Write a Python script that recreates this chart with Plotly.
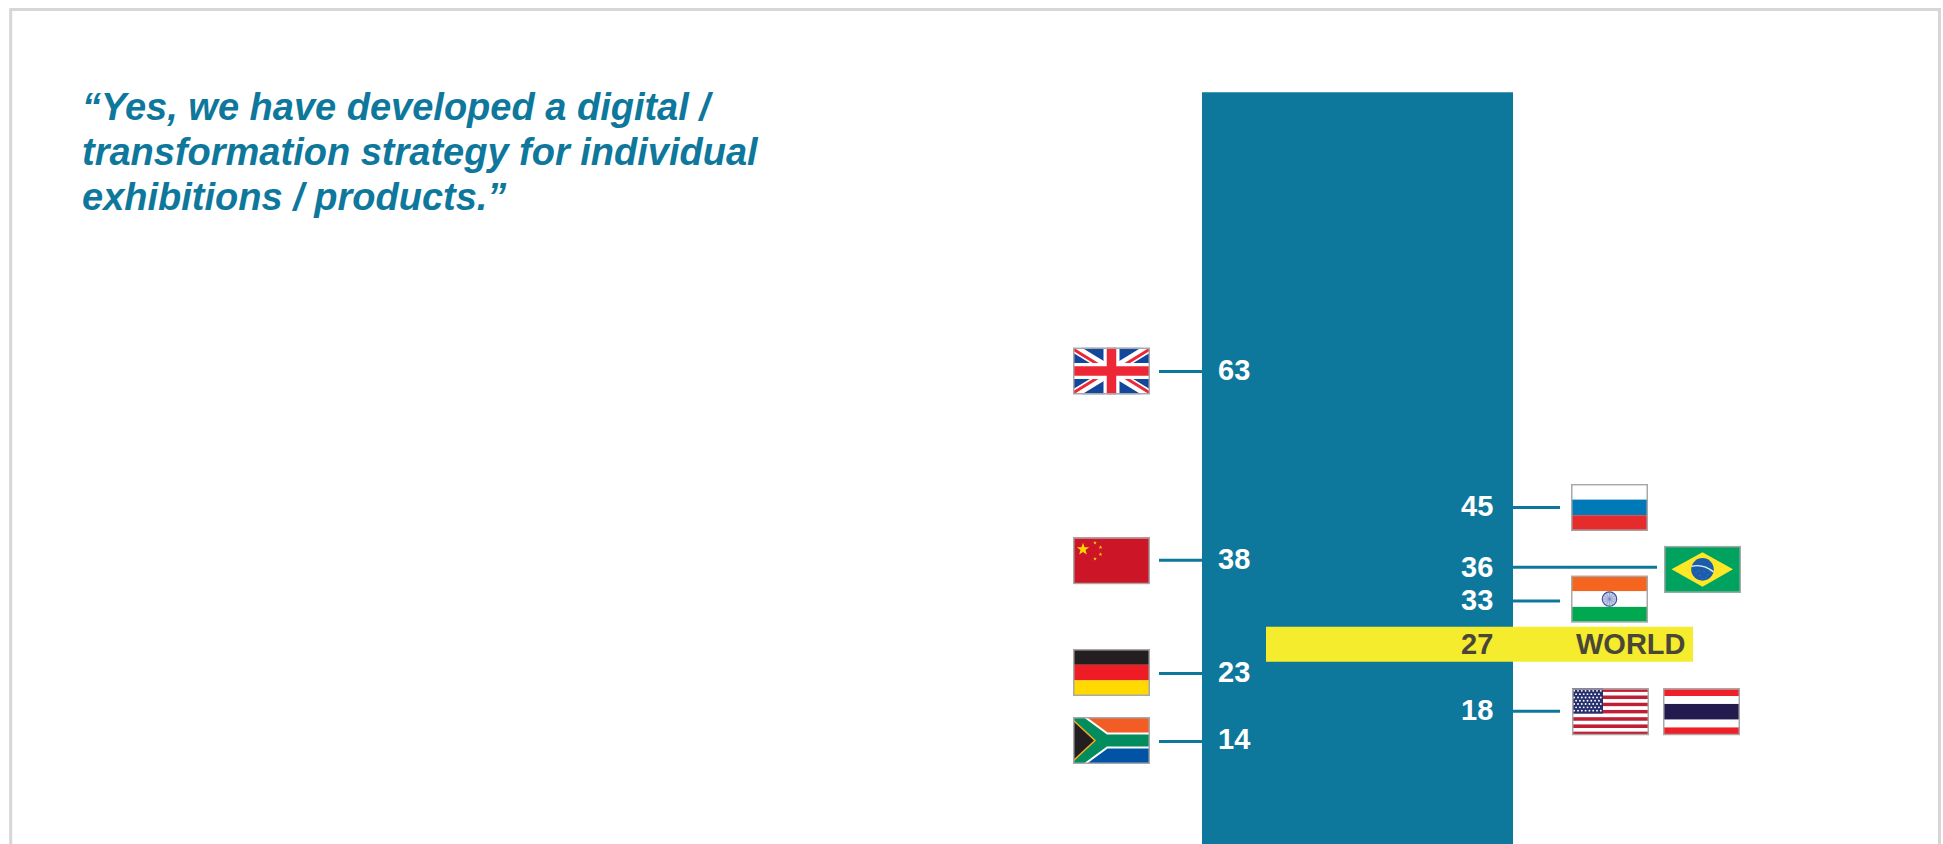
import base64
import math
import plotly.graph_objects as go

W, H = 1943, 844
Y_MIN, Y_MAX = 0.42, 112.21

TEAL = "#0e789c"
YELLOW = "#f4ec2d"
DARK = "#4a4638"
FRAME = "#d6d6d6"
FONT = "Liberation Sans"

title_lines = ["“Yes, we have developed a digital /",
               "transformation strategy for individual",
               "exhibitions / products.”"]

column_value = [100]

left_countries = ["UK", "China", "Germany", "South Africa"]
left_values = [63, 38, 23, 14]

right_countries = ["Russia", "Brazil", "India", "USA"]
right_values = [45, 36, 33, 18]

world_label = "WORLD"
world_value = 27

# layout nudges, in axis units, where the original pulled crowded labels apart
nudge = {"Brazil": 1.06, "India": -0.4}
# small vertical optical offsets of the numbers, in pixels
label_dy = {63: -2, 38: -1, 23: -2, 14: -2, 45: -1, 36: -0.5, 33: -1, 27: 1, 18: -1}


def px(x):
    return x / W


def py(y):
    return 1 - y / H


def y_px(v):
    return (Y_MAX - v) / (Y_MAX - Y_MIN) * H


def svg(body):
    s = ('<svg xmlns="http://www.w3.org/2000/svg" viewBox="0 0 77 47" preserveAspectRatio="none" '
         'width="308" height="188">' + body +
         '<rect x="0.75" y="0.75" width="75.5" height="45.5" fill="none" stroke="#a8a8a8" stroke-width="1.5"/></svg>')
    return "data:image/svg+xml;base64," + base64.b64encode(s.encode()).decode()


def bands(colors, weights=None):
    weights = weights or [1] * len(colors)
    total = sum(weights)
    y, out = 0.0, ""
    for c, w in zip(colors, weights):
        h = 47 * w / total
        out += f'<rect x="0" y="{y:.2f}" width="77" height="{h + 0.1:.2f}" fill="{c}"/>'
        y += h
    return out


def star(cx, cy, r, fill):
    pts = []
    for i in range(10):
        a = -math.pi / 2 + i * math.pi / 5
        rr = r if i % 2 == 0 else r * 0.4
        pts.append(f"{cx + rr * math.cos(a):.2f},{cy + rr * math.sin(a):.2f}")
    return f'<polygon points="{" ".join(pts)}" fill="{fill}"/>'


uk = ('<rect width="77" height="47" fill="#12479c"/>'
      '<path d="M0 0L77 47M77 0L0 47" stroke="#fff" stroke-width="9"/>'
      '<path d="M0 1.5L30 20M77 1.5L47 20M0 45.5L30 27M77 45.5L47 27" stroke="#ee2737" stroke-width="3"/>'
      '<path d="M38.5 0V47M0 23.5H77" stroke="#fff" stroke-width="16"/>'
      '<path d="M38.5 0V47M0 23.5H77" stroke="#ee2737" stroke-width="9.5"/>')

china = ('<rect width="77" height="47" fill="#cc1527"/>' + star(10, 12, 6.5, "#ffd800") +
         star(22, 5.5, 2, "#ffd800") + star(27.5, 10, 2, "#ffd800") +
         star(27.5, 17, 2, "#ffd800") + star(22, 21.5, 2, "#ffd800"))

germany = bands(["#231f20", "#ee1c25", "#ffd900"])

south_africa = ('<rect width="77" height="47" fill="#f15d24"/>'
                '<rect y="23.5" width="77" height="23.5" fill="#0053a5"/>'
                '<path d="M0 0L32 23.5L0 47M32 23.5H77" fill="none" stroke="#fff" stroke-width="16"/>'
                '<path d="M0 0L32 23.5L0 47M32 23.5H77" fill="none" stroke="#038c5e" stroke-width="12"/>'
                '<path d="M0 3L22 23.5L0 44Z" fill="#231f20" stroke="#f8ac1d" stroke-width="1.5"/>')

russia = bands(["#ffffff", "#0079b9", "#e62b2d"])

stars_br = "".join(
    f'<circle cx="{x}" cy="{y}" r="0.45" fill="#9fc0e6"/>'
    for x, y in [(32, 27), (36, 30), (40, 26), (44, 29), (38, 33), (42, 32), (35, 25), (46, 26)])
brazil = ('<rect width="77" height="47" fill="#00a25f"/>'
          '<polygon points="38.5,6.5 69,23.5 38.5,41 7.5,23.5" fill="#fde726"/>'
          '<circle cx="38.5" cy="23.5" r="11.3" fill="#1c5dab"/>' + stars_br +
          '<path d="M27.5 20.5Q39 17.5 49.5 26" fill="none" stroke="#e6eef5" stroke-width="1.4"/>')

spokes = "".join(
    f'<line x1="38.5" y1="23.5" x2="38.5" y2="16.5" stroke="#6f80bd" stroke-width="0.5" '
    f'transform="rotate({a} 38.5 23.5)"/>' for a in range(0, 360, 30))
india = bands(["#f5651f", "#ffffff", "#00a84f"]) + (
    '<circle cx="38.5" cy="23.5" r="7.2" fill="#c7cfe8" stroke="#3b4fa0" stroke-width="1.2"/>' + spokes)

usa = bands(["#c01f33", "#ffffff"] * 6 + ["#c01f33"]) + '<rect width="31" height="25.3" fill="#27306f"/>'
for row in range(7):
    for col in range(8 if row % 2 == 0 else 7):
        usa += (f'<circle cx="{(2.2 if row % 2 == 0 else 4.1) + col * 3.8:.1f}" '
                f'cy="{2.6 + row * 3.3:.1f}" r="0.95" fill="#ffffff"/>')

thailand = bands(["#ee2028", "#ffffff", "#231b4e", "#ffffff", "#ee2028"], [1, 1, 2, 1, 1])

FLAG_W, FLAG_H = 77, 47
LEFT_FLAG_X, RIGHT_FLAG_X = 1073, 1571
flags = [
    (uk, LEFT_FLAG_X, 63, -0.5), (china, LEFT_FLAG_X, 38, 0.5), (germany, LEFT_FLAG_X, 23, -1),
    (south_africa, LEFT_FLAG_X, 14, -1), (russia, RIGHT_FLAG_X, 45, 0),
    (brazil, 1664, 36 + nudge["Brazil"], 2), (india, RIGHT_FLAG_X, 33 + nudge["India"], -2),
    (usa, 1572, 18, 0.5), (thailand, 1663, 18, 0.5),
]

images = []
for body, x, v, dy in flags:
    images.append(dict(source=svg(body), xref="paper", yref="paper", x=px(x), y=py(y_px(v) + dy - FLAG_H / 2),
                       sizex=FLAG_W / W, sizey=FLAG_H / H, sizing="stretch", xanchor="left", yanchor="top",
                       layer="above"))

# the column is one bar, 311 px wide, positioned through the x axis scale
COL_L, COL_R = 1202, 1513
unit = COL_R - COL_L
x0 = -0.5 - COL_L / unit
fig = go.Figure(go.Bar(x=[0], y=column_value, width=1, marker=dict(color=TEAL, line_width=0), hoverinfo="skip"))

shapes = [
    dict(type="rect", xref="paper", yref="paper", x0=px(10.7), x1=px(1939.5), y0=py(9.5), y1=py(900),
         line=dict(color=FRAME, width=3), fillcolor="rgba(0,0,0,0)", layer="below"),
    dict(type="rect", xref="paper", yref="y", x0=px(1266), x1=px(1693), y0=world_value - 2.45, y1=world_value + 2.2,
         line_width=0, fillcolor=YELLOW, layer="above"),
]
annotations = []


def text(x, y, s, color, size, anchor="right", italic=False, yref="y", yshift=0):
    annotations.append(dict(
        xref="paper", yref=yref, x=px(x), y=y, text=s, showarrow=False, xanchor=anchor, yanchor="middle",
        yshift=yshift, borderpad=0,
        font=dict(family=FONT, size=size, color=color, weight="bold", style="italic" if italic else "normal")))


def leader(x_a, x_b, v, width=3):
    shapes.append(dict(type="line", xref="paper", yref="y", x0=px(x_a), x1=px(x_b), y0=v, y1=v,
                       line=dict(color=TEAL, width=width), layer="above"))


for name, v in zip(left_countries, left_values):
    leader(1159, COL_L, v)
    text(1251, v, str(v), "#ffffff", 29, yshift=-label_dy[v])

for name, v in zip(right_countries, right_values):
    pos = v + nudge.get(name, 0)
    leader(COL_R, 1657 if name == "Brazil" else 1560, pos)
    text(1494, pos, str(v), "#ffffff", 29, yshift=-label_dy[v])

text(1494, world_value, str(world_value), DARK, 29, yshift=-label_dy[world_value])
text(1575, world_value, world_label, DARK, 29, anchor="left", yshift=-label_dy[world_value])

for i, line in enumerate(title_lines):
    text(81, py(106.5 + i * 45.3), line, TEAL, 38, anchor="left", italic=True, yref="paper")

fig.update_layout(
    width=W, height=H, autosize=False, margin=dict(l=0, r=0, t=0, b=0),
    paper_bgcolor="#ffffff", plot_bgcolor="#ffffff", showlegend=False,
    xaxis=dict(range=[x0, x0 + W / unit], visible=False, fixedrange=True),
    yaxis=dict(range=[Y_MIN, Y_MAX], visible=False, fixedrange=True),
    shapes=shapes, annotations=annotations, images=images,
)

fig.write_html("out.html", config=dict(displayModeBar=False),
               post_script="document.body.style.margin='0';document.body.style.overflow='hidden';")
